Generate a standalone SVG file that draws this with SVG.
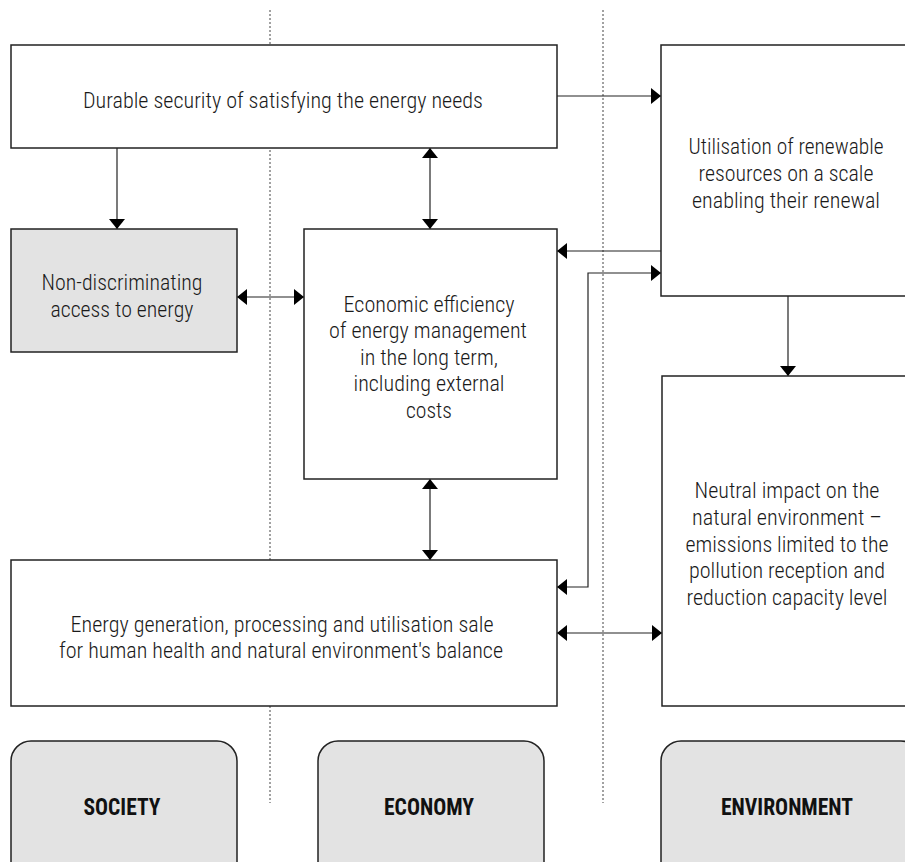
<svg xmlns="http://www.w3.org/2000/svg" width="905" height="862" viewBox="0 0 905 862">
  <style>
    .box { fill: #ffffff; stroke: #222222; stroke-width: 1.5; }
    .grey { fill: #e3e3e3; }
    .pillar { fill: #e3e3e3; stroke: #222222; stroke-width: 1.5; }
    .divider { stroke: #444444; stroke-width: 1; stroke-dasharray: 2 2; fill: none; }
    .conn { stroke: #222222; stroke-width: 1.2; fill: none; }
    .label { font-family: "Roboto Condensed", "Roboto", "Liberation Sans", sans-serif; font-weight: 300; font-size: 22px; fill: #1a1a1a; text-anchor: middle; }
    .title { font-family: "Roboto Condensed", "Roboto", "Liberation Sans", sans-serif; font-weight: 700; font-size: 23px; fill: #111111; text-anchor: middle; }
  </style>
  <defs>
    <marker id="arrow" viewBox="0 0 10 16" refX="10" refY="8" markerWidth="10" markerHeight="16" markerUnits="userSpaceOnUse" orient="auto-start-reverse">
      <path d="M0,0 L10,8 L0,16 Z" fill="#000000"/>
    </marker>
  </defs>

  <rect width="905" height="862" fill="#ffffff"/>

  <!-- column dividers -->
  <g id="dividers">
    <line class="divider" x1="270" y1="10" x2="270" y2="803"/>
    <line class="divider" x1="603" y1="10" x2="603" y2="803"/>
  </g>

  <!-- connectors -->
  <g id="connectors">
    <path class="conn" d="M117,148 V229" marker-end="url(#arrow)"/>
    <path class="conn" d="M430,148 V229" marker-start="url(#arrow)" marker-end="url(#arrow)"/>
    <path class="conn" d="M557,96 H661" marker-end="url(#arrow)"/>
    <path class="conn" d="M661,251 H557" marker-end="url(#arrow)"/>
    <path class="conn" d="M557,587 H588 V273 H661" marker-start="url(#arrow)" marker-end="url(#arrow)"/>
    <path class="conn" d="M237,297 H304" marker-start="url(#arrow)" marker-end="url(#arrow)"/>
    <path class="conn" d="M430,479 V560" marker-start="url(#arrow)" marker-end="url(#arrow)"/>
    <path class="conn" d="M788,296 V376" marker-end="url(#arrow)"/>
    <path class="conn" d="M557,633 H662" marker-start="url(#arrow)" marker-end="url(#arrow)"/>
  </g>

  <g id="security">
    <rect class="box" x="11" y="45" width="546" height="103"/>
    <text class="label" x="283" y="108" textLength="400" lengthAdjust="spacingAndGlyphs">Durable security of satisfying the energy needs</text>
  </g>

  <g id="access">
    <rect class="box grey" x="11" y="229" width="226" height="123"/>
    <text class="label" x="122" y="290" textLength="161" lengthAdjust="spacingAndGlyphs">Non-discriminating</text>
    <text class="label" x="122" y="317" textLength="143" lengthAdjust="spacingAndGlyphs">access to energy</text>
  </g>

  <g id="efficiency">
    <rect class="box" x="304" y="229" width="253" height="250"/>
    <text class="label" x="429" y="312" textLength="171" lengthAdjust="spacingAndGlyphs">Economic efficiency</text>
    <text class="label" x="428" y="338" textLength="198" lengthAdjust="spacingAndGlyphs">of energy management</text>
    <text class="label" x="429" y="365" textLength="138" lengthAdjust="spacingAndGlyphs">in the long term,</text>
    <text class="label" x="429" y="391" textLength="151" lengthAdjust="spacingAndGlyphs">including external</text>
    <text class="label" x="429" y="418" textLength="46" lengthAdjust="spacingAndGlyphs">costs</text>
  </g>

  <g id="renewables">
    <rect class="box" x="661" y="45" width="260" height="251"/>
    <text class="label" x="786" y="154" textLength="195" lengthAdjust="spacingAndGlyphs">Utilisation of renewable</text>
    <text class="label" x="786" y="181" textLength="175" lengthAdjust="spacingAndGlyphs">resources on a scale</text>
    <text class="label" x="786" y="208" textLength="188" lengthAdjust="spacingAndGlyphs">enabling their renewal</text>
  </g>

  <g id="neutral">
    <rect class="box" x="662" y="376" width="260" height="330"/>
    <text class="label" x="787" y="498" textLength="185" lengthAdjust="spacingAndGlyphs">Neutral impact on the</text>
    <text class="label" x="787" y="525" textLength="190" lengthAdjust="spacingAndGlyphs">natural environment –</text>
    <text class="label" x="787" y="552" textLength="203" lengthAdjust="spacingAndGlyphs">emissions limited to the</text>
    <text class="label" x="787" y="578" textLength="196" lengthAdjust="spacingAndGlyphs">pollution reception and</text>
    <text class="label" x="787" y="605" textLength="201" lengthAdjust="spacingAndGlyphs">reduction capacity level</text>
  </g>

  <g id="generation">
    <rect class="box" x="11" y="560" width="546" height="146"/>
    <text class="label" x="282" y="632" textLength="423" lengthAdjust="spacingAndGlyphs">Energy generation, processing and utilisation sale</text>
    <text class="label" x="281" y="658" textLength="444" lengthAdjust="spacingAndGlyphs">for human health and natural environment's balance</text>
  </g>

  <g id="society">
    <rect class="pillar" x="11" y="741" width="226" height="150" rx="20" ry="20"/>
    <text class="title" x="122" y="815" textLength="77" lengthAdjust="spacingAndGlyphs">SOCIETY</text>
  </g>

  <g id="economy">
    <rect class="pillar" x="318" y="741" width="226" height="150" rx="20" ry="20"/>
    <text class="title" x="429" y="815" textLength="90" lengthAdjust="spacingAndGlyphs">ECONOMY</text>
  </g>

  <g id="environment">
    <rect class="pillar" x="661" y="741" width="260" height="150" rx="20" ry="20"/>
    <text class="title" x="787" y="815" textLength="132" lengthAdjust="spacingAndGlyphs">ENVIRONMENT</text>
  </g>
</svg>
